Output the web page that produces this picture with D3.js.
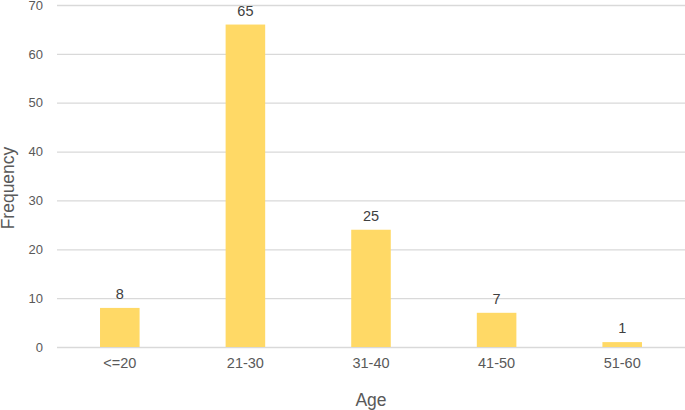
<!DOCTYPE html>
<html lang="en">
<head>
    <meta charset="UTF-8">
    <title>Age frequency</title>
    <script src="https://d3js.org/d3.v7.min.js"></script>
</head>
<style>
    body {
        margin: 0;
        padding: 0;
        background: #fff;
    }
    svg, svg text {
        font-family: "Liberation Sans", Arial, sans-serif;
    }
</style>
<body>
<div class="chart"></div>
<script>
  /** DATA */
  var ageGroups = ['<=20', '21-30', '31-40', '41-50', '51-60'];
  var barHeights = [8, 66, 24, 7, 1];
  var valueLabels = ['8', '65', '25', '7', '1'];
  var yTicks = [0, 10, 20, 30, 40, 50, 60, 70];

  /** LAYOUT */
  var width = 685, height = 410;
  var plotLeft = 57, plotRight = 685, plotTop = 5, plotBottom = 347;

  var svg = d3.select('.chart').append('svg')
    .attr('width', width)
    .attr('height', height);

  var x = d3.scaleBand()
    .domain(ageGroups)
    .range([plotLeft, plotRight]);

  var y = d3.scaleLinear()
    .domain([0, 70])
    .range([plotBottom, plotTop]);

  var barWidth = x.bandwidth() * 0.315;

  /** gridlines + y tick labels */
  var yAxis = svg.append('g')
    .attr('transform', 'translate(' + plotLeft + ',0)')
    .call(d3.axisLeft(y).tickValues(yTicks).tickSize(-(plotRight - plotLeft)).tickPadding(14));
  yAxis.select('.domain').remove();
  yAxis.selectAll('.tick line').attr('stroke', '#d9d9d9').attr('stroke-width', 1.3);
  yAxis.selectAll('.tick text')
    .attr('fill', '#595959')
    .attr('font-size', 13);

  /** bars */
  svg.append('g').selectAll('rect')
    .data(barHeights)
    .enter().append('rect')
    .attr('x', function (d, i) { return x(ageGroups[i]) + (x.bandwidth() - barWidth) / 2; })
    .attr('y', function (d) { return y(d); })
    .attr('width', barWidth)
    .attr('height', function (d) { return y(0) - y(d); })
    .attr('fill', '#ffd966');

  /** value labels */
  svg.append('g').selectAll('text')
    .data(barHeights)
    .enter().append('text')
    .attr('x', function (d, i) { return x(ageGroups[i]) + x.bandwidth() / 2; })
    .attr('y', function (d) { return y(d) - 9; })
    .attr('text-anchor', 'middle')
    .attr('font-size', 14.5)
    .attr('fill', '#404040')
    .text(function (d, i) { return valueLabels[i]; });

  /** x axis labels */
  var xAxis = svg.append('g')
    .attr('transform', 'translate(0,' + plotBottom + ')')
    .call(d3.axisBottom(x).tickSize(0).tickPadding(11));
  xAxis.select('.domain').remove();
  xAxis.selectAll('.tick text')
    .attr('fill', '#595959')
    .attr('font-size', 14.5);

  /** axis titles */
  svg.append('text')
    .attr('x', (plotLeft + plotRight) / 2)
    .attr('y', 406)
    .attr('text-anchor', 'middle')
    .attr('font-size', 17.5)
    .attr('fill', '#595959')
    .text('Age');

  svg.append('text')
    .attr('transform', 'translate(14,' + 188 + ') rotate(-90)')
    .attr('text-anchor', 'middle')
    .attr('font-size', 17.5)
    .attr('fill', '#595959')
    .text('Frequency');
</script>
</body>
</html>
